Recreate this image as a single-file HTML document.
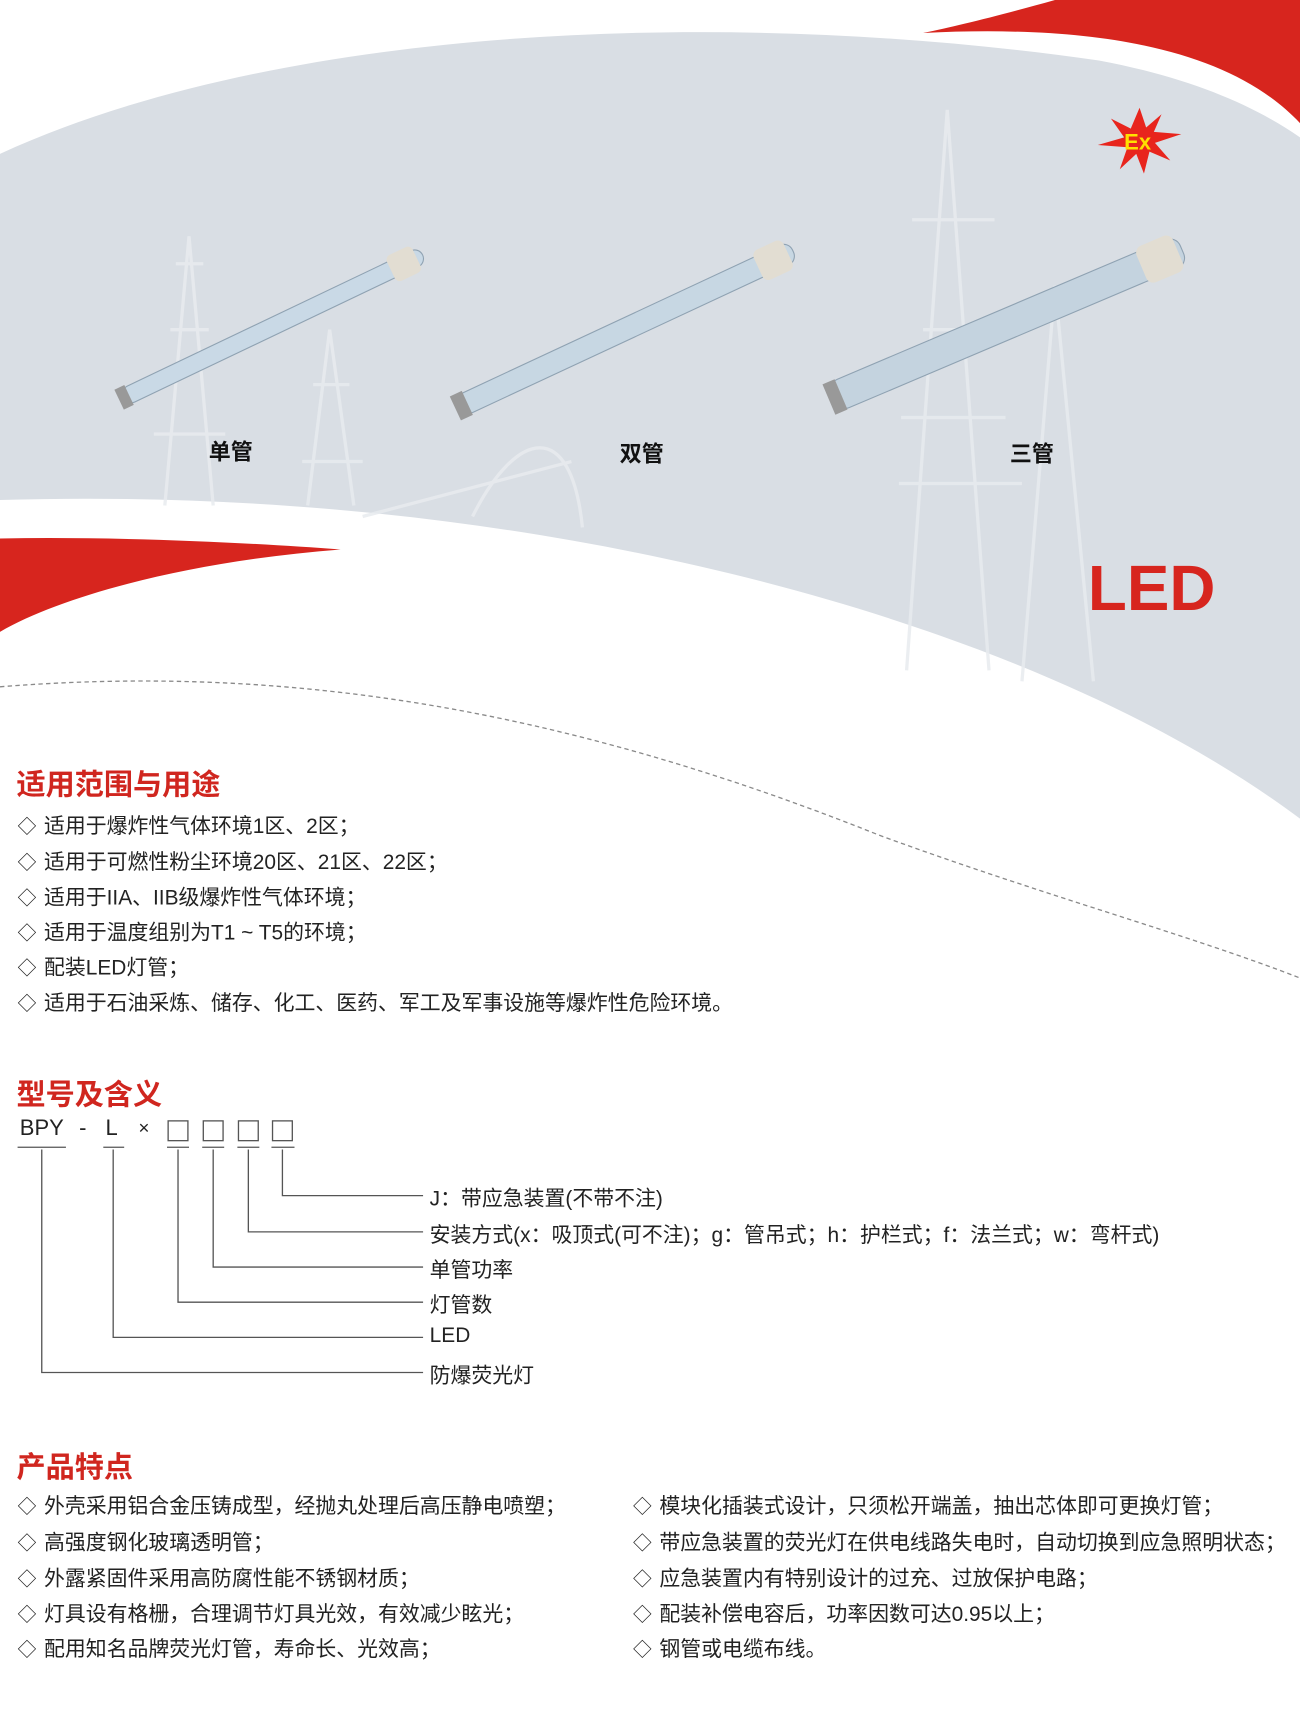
<!DOCTYPE html>
<html><head><meta charset="utf-8"><style>
html,body{margin:0;padding:0;background:#fff;}
body{width:1300px;height:1723px;overflow:hidden;position:relative;}
#s{position:absolute;left:0;top:0;width:1183px;height:1568px;transform:scale(1.09890);transform-origin:0 0;font-family:"Liberation Sans","Noto Sans CJK SC",sans-serif;color:#222;}
.t{position:absolute;white-space:nowrap;}
.h{color:#d0261f;font-size:26.5px;font-weight:bold;}
.li{font-size:19px;}
.li:before{content:"◇";margin-right:7px;font-size:17px;}
.d{font-size:19px;}
.lab{font-size:20px;font-weight:bold;color:#111;}
</style></head><body><div id="s">
<svg width="1183" height="1568" style="position:absolute;left:0;top:0">
<path d="M0,140 C250,25 650,5 1000,55 C1080,70 1140,95 1183,125 L1183,745 C950,570 500,440 0,455 Z" fill="#d9dee4"/>
<g fill="none" stroke="#e8ebef" stroke-width="3" opacity="0.85">
<path d="M150,460 L172,215 L194,460 M140,395 L205,395 M155,300 L190,300 M160,240 L185,240"/>
<path d="M280,460 L300,300 L322,460 M275,420 L330,420 M285,350 L318,350"/>
<path d="M825,610 L862,100 L900,610 M818,440 L930,440 M830,200 L905,200 M840,300 L890,300 M820,380 L915,380"/>
<path d="M430,470 C470,390 520,380 530,480 M330,470 L520,420"/>
<path d="M930,620 L960,260 L995,620"/>
</g>
<path d="M840,30 C1000,22 1120,45 1183,112 L1183,0 L960,0 C910,14 870,24 840,30 Z" fill="#d7251e"/>
<path d="M0,490 C110,488 230,494 310,500 C180,510 60,540 0,575 Z" fill="#d7251e"/>
<path d="M0,625 C250,605 500,640 800,760 C950,815 1080,850 1183,890" fill="none" stroke="#8a8a8a" stroke-width="1.2" stroke-dasharray="4,3"/>
<g transform="translate(1037,128)">
<polygon fill="#e8251d" points="0,-30 6,-12 20,-24 13,-8 38,-6 14,2 28,18 9,10 4,30 -3,12 -18,26 -11,6 -38,4 -14,-3 -26,-20 -8,-11"/>
<text x="-14" y="8" font-family="Liberation Sans" font-size="20" fill="#ffe000" font-weight="bold">Ex</text>
</g>
<g>
<g transform="translate(112,362) rotate(-25.5)"><rect x="0" y="-8" width="302" height="16" rx="8" fill="#c9d9e6" stroke="#8fa2b2"/><rect x="270" y="-13" width="26" height="26" rx="5" fill="#e2ddd2"/><rect x="-4" y="-10" width="10" height="20" fill="#999"/></g>
<g transform="translate(418,370) rotate(-25)"><rect x="0" y="-10" width="335" height="20" rx="9" fill="#c7d7e3" stroke="#8fa2b2"/><rect x="300" y="-15" width="30" height="30" rx="6" fill="#e2ddd2"/><rect x="-4" y="-12" width="12" height="24" fill="#999"/></g>
<g transform="translate(758,362) rotate(-23)"><rect x="0" y="-14" width="345" height="28" rx="10" fill="#c4d3df" stroke="#8fa2b2"/><rect x="305" y="-18" width="36" height="36" rx="7" fill="#e2ddd2"/><rect x="-4" y="-15" width="12" height="30" fill="#999"/></g>
</g>
<text x="990" y="555" font-family="Liberation Sans" font-weight="bold" font-size="58" fill="#d7251e">LED</text>
<g stroke="#555" stroke-width="1.2" fill="none">
<line x1="16" y1="1044" x2="60" y2="1044"/><line x1="94" y1="1044" x2="113" y2="1044"/>
<line x1="152" y1="1044" x2="172" y2="1044"/><line x1="184" y1="1044" x2="204" y2="1044"/><line x1="216" y1="1044" x2="236" y2="1044"/><line x1="247" y1="1044" x2="268" y2="1044"/>
<polyline points="257,1046 257,1088 385,1088"/>
<polyline points="226,1046 226,1121 385,1121"/>
<polyline points="194,1046 194,1153 385,1153"/>
<polyline points="162,1046 162,1185 385,1185"/>
<polyline points="103,1046 103,1217 385,1217"/>
<polyline points="38,1046 38,1249 385,1249"/>
<rect x="153" y="1020" width="18" height="18"/><rect x="185" y="1020" width="18" height="18"/><rect x="217" y="1020" width="18" height="18"/><rect x="248" y="1020" width="18" height="18"/>
</g>
</svg>
<div class="t lab" style="left:190px;top:395px">单管</div>
<div class="t lab" style="left:564px;top:397px">双管</div>
<div class="t lab" style="left:919px;top:397px">三管</div>

<div class="t h" style="left:15px;top:692px">适用范围与用途</div>
<div class="t li" style="left:16px;top:737px">适用于爆炸性气体环境1区、2区；</div>
<div class="t li" style="left:16px;top:770px">适用于可燃性粉尘环境20区、21区、22区；</div>
<div class="t li" style="left:16px;top:802px">适用于IIA、IIB级爆炸性气体环境；</div>
<div class="t li" style="left:16px;top:834px">适用于温度组别为T1 ~ T5的环境；</div>
<div class="t li" style="left:16px;top:866px">配装LED灯管；</div>
<div class="t li" style="left:16px;top:898px">适用于石油采炼、储存、化工、医药、军工及军事设施等爆炸性危险环境。</div>

<div class="t h" style="left:15px;top:974px">型号及含义</div>
<div class="t" style="left:18px;top:1016px;font-size:20px">BPY</div>
<div class="t" style="left:72px;top:1016px;font-size:20px">-</div>
<div class="t" style="left:96px;top:1016px;font-size:20px">L</div>
<div class="t" style="left:126px;top:1017px;font-size:17px">×</div>
<div class="t d" style="left:391px;top:1076px">J：带应急装置(不带不注)</div>
<div class="t d" style="left:391px;top:1109px">安装方式(x：吸顶式(可不注)；g：管吊式；h：护栏式；f：法兰式；w：弯杆式)</div>
<div class="t d" style="left:391px;top:1141px">单管功率</div>
<div class="t d" style="left:391px;top:1173px">灯管数</div>
<div class="t d" style="left:391px;top:1205px">LED</div>
<div class="t d" style="left:391px;top:1237px">防爆荧光灯</div>

<div class="t h" style="left:15px;top:1313px">产品特点</div>
<div class="t li" style="left:16px;top:1356px">外壳采用铝合金压铸成型，经抛丸处理后高压静电喷塑；</div>
<div class="t li" style="left:16px;top:1389px">高强度钢化玻璃透明管；</div>
<div class="t li" style="left:16px;top:1422px">外露紧固件采用高防腐性能不锈钢材质；</div>
<div class="t li" style="left:16px;top:1454px">灯具设有格栅，合理调节灯具光效，有效减少眩光；</div>
<div class="t li" style="left:16px;top:1486px">配用知名品牌荧光灯管，寿命长、光效高；</div>
<div class="t li" style="left:576px;top:1356px">模块化插装式设计，只须松开端盖，抽出芯体即可更换灯管；</div>
<div class="t li" style="left:576px;top:1389px">带应急装置的荧光灯在供电线路失电时，自动切换到应急照明状态；</div>
<div class="t li" style="left:576px;top:1422px">应急装置内有特别设计的过充、过放保护电路；</div>
<div class="t li" style="left:576px;top:1454px">配装补偿电容后，功率因数可达0.95以上；</div>
<div class="t li" style="left:576px;top:1486px">钢管或电缆布线。</div>
</div></body></html>
